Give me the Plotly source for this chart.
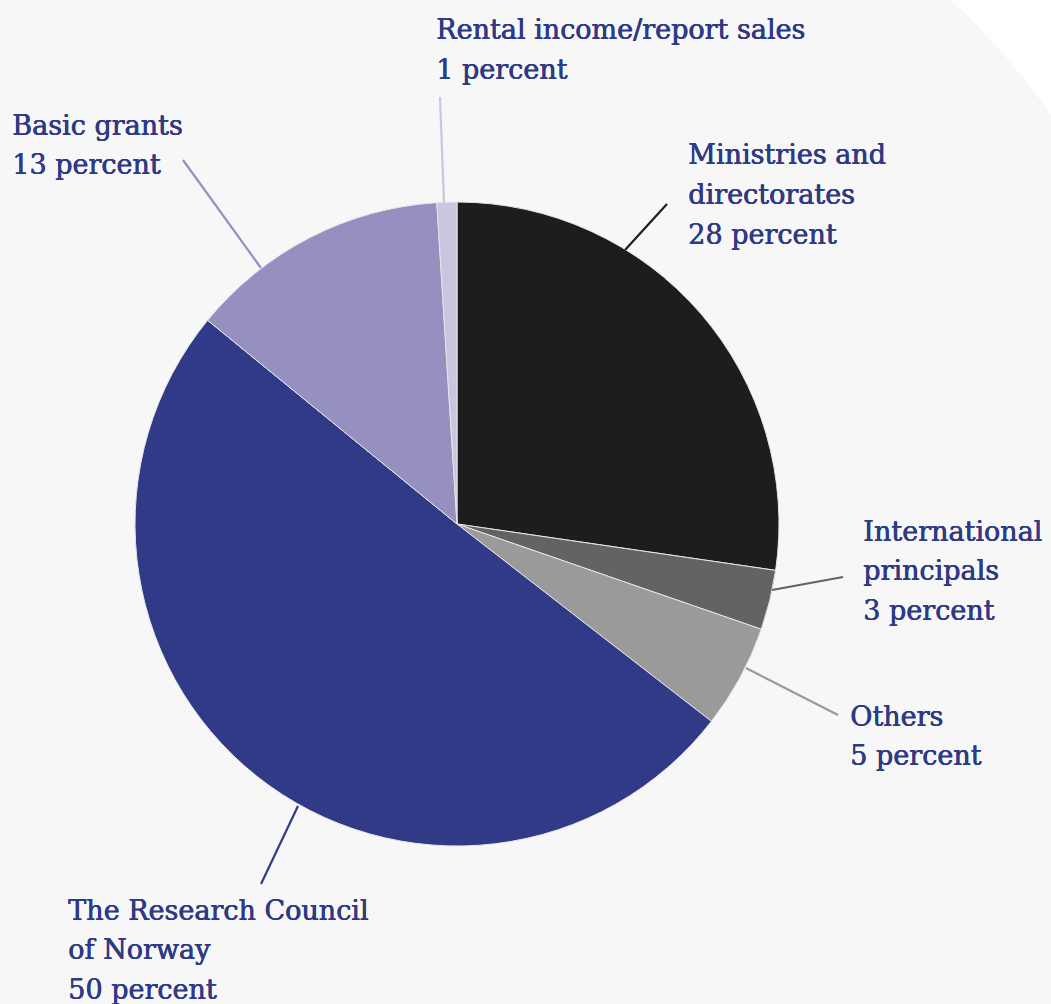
import math
import plotly.graph_objects as go

# ---- data ----
categories = ["Ministries and directorates", "International principals", "Others",
              "The Research Council of Norway", "Basic grants", "Rental income/report sales"]
shares = [27.3, 3.0, 5.2, 50.4, 13.1, 1.0]
label_lines = [
    ["Ministries and", "directorates", "28 percent"],
    ["International", "principals", "3 percent"],
    ["Others", "5 percent"],
    ["The Research Council", "of Norway", "50 percent"],
    ["Basic grants", "13 percent"],
    ["Rental income/report sales", "1 percent"],
]
slice_colors = ["#1d1d1d", "#636363", "#9a9a9a", "#303a87", "#9590bf", "#c8c6e0"]

# ---- layout constants (pixels) ----
W, H = 1051, 1004
CX, CY, R = 457, 524, 322
TEXT_COLOR = "#2f3a85"
FONT = "DejaVu Serif"
FS = 27
LINE_GAP = 39.5
# label first-line centre (left x, centre y)
label_pos = [(688, 155), (863, 531), (850, 716), (68, 910), (12, 125), (436, 30)]
# leader lines (outer point, inner point)
leaders = [((667, 204), (625, 250)),
           ((843, 577), (772, 590)),
           ((838, 715), (746, 668)),
           ((261, 884), (298, 806)),
           ((183, 160), (261, 268)),
           ((440, 97), (444, 203))]


def px(x):
    return x / W


def py(y):
    return 1 - y / H


fig = go.Figure()
fig.add_trace(go.Pie(
    labels=categories,
    values=shares,
    sort=False,
    direction="clockwise",
    rotation=0,
    marker=dict(colors=slice_colors, line=dict(color="#e6e6e6", width=1)),
    textinfo="none",
    hoverinfo="label+percent",
    showlegend=False,
    domain=dict(x=[px(CX - R), px(CX + R)], y=[py(CY + R), py(CY - R)]),
))

shapes = []
# white curved corner at the top right (background decoration)
BCX, BCY, BR = 455, 536, 730
pts = []
for k in range(0, 41):
    yy = -2 + k * 3.5
    xx = BCX + math.sqrt(BR ** 2 - (BCY - yy) ** 2)
    pts.append((xx, yy))
path = "M {:.5f},{:.5f} ".format(px(pts[0][0]), py(pts[0][1]))
for xx, yy in pts[1:]:
    path += "L {:.5f},{:.5f} ".format(px(xx), py(yy))
path += "L {:.5f},{:.5f} L {:.5f},{:.5f} Z".format(px(1060), py(pts[-1][1]), px(1060), py(-5))
shapes.append(dict(type="path", xref="paper", yref="paper", path=path,
                   fillcolor="#ffffff", line=dict(width=0), layer="below"))

for (o, i), col in zip(leaders, slice_colors):
    shapes.append(dict(type="line", xref="paper", yref="paper",
                       x0=px(o[0]), y0=py(o[1]), x1=px(i[0]), y1=py(i[1]),
                       line=dict(color=col, width=2.2)))

annotations = []
for lines, (lx, ly) in zip(label_lines, label_pos):
    for k, t in enumerate(lines):
        annotations.append(dict(text=t, xref="paper", yref="paper",
                                x=px(lx - 2), y=py(ly + k * LINE_GAP),
                                xanchor="left", yanchor="middle", showarrow=False,
                                font=dict(family=FONT, size=FS, color=TEXT_COLOR,
                                          shadow="0.6px 0px 0px {0}, 0.3px 0.3px 0px {0}".format(TEXT_COLOR))))

fig.update_layout(
    width=W, height=H,
    margin=dict(l=0, r=0, t=0, b=0),
    paper_bgcolor="#f7f7f7",
    plot_bgcolor="#f7f7f7",
    shapes=shapes,
    annotations=annotations,
)

fig.write_html("out.html")
